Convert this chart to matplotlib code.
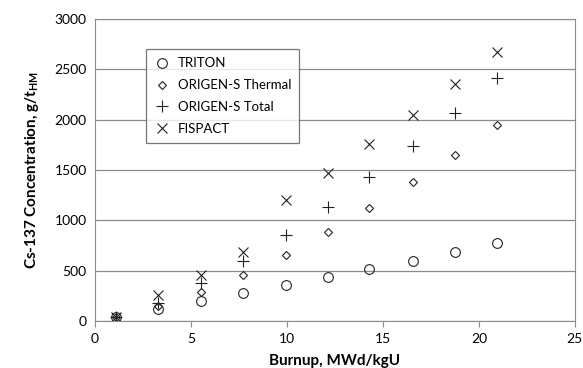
import matplotlib
matplotlib.use("Agg")
from matplotlib import pyplot as plt

burnup = [1.1, 3.3, 5.5, 7.7, 9.95, 12.15, 14.3, 16.55, 18.75, 20.95]
triton = [40, 120, 200, 280, 360, 440, 520, 600, 685, 770]
origen_thermal = [40, 150, 290, 460, 660, 880, 1120, 1380, 1650, 1945]
origen_total = [40, 180, 380, 600, 850, 1130, 1430, 1740, 2070, 2415]
fispact = [40, 260, 460, 680, 1200, 1470, 1760, 2050, 2360, 2675]

plt.rcParams['font.family'] = ['Lato', 'DejaVu Sans']

fig = plt.figure(figsize=(5.83, 3.68), dpi=100)
ax = fig.add_axes([0.163, 0.128, 0.823, 0.82])

style = dict(linestyle='none', color='#222222', markerfacecolor='none', markeredgewidth=0.8)
ax.plot(burnup, triton, marker='o', markersize=7, label='TRITON', **style)
ax.plot(burnup, origen_thermal, marker='D', markersize=4.5, label='ORIGEN-S Thermal', **style)
ax.plot(burnup, origen_total, marker='+', markersize=9, label='ORIGEN-S Total', **style)
ax.plot(burnup, fispact, marker='x', markersize=7, label='FISPACT', **style)

ax.set_xlim(0, 25)
ax.set_ylim(0, 3000)
ax.set_xticks(range(0, 26, 5))
ax.set_yticks(range(0, 3001, 500))
ax.yaxis.grid(True, color='#8c8c8c', linewidth=0.9)
ax.set_axisbelow(True)
for s in ax.spines.values():
    s.set_color('#8c8c8c')
ax.tick_params(axis='both', labelsize=10, color='#8c8c8c', length=4)
ax.tick_params(axis='y', length=0, pad=6)
ax.tick_params(axis='x', direction='out', pad=5)

ax.set_xlabel('Burnup, MWd/kgU', fontsize=11, fontweight='bold', labelpad=6)
ax.set_ylabel('Cs-137 Concentration, g/t$_{\\mathregular{HM}}$', fontsize=11, fontweight='bold', labelpad=10)

leg = ax.legend(loc='upper left', bbox_to_anchor=(0.106, 0.90), borderaxespad=0, fontsize=9.5,
                frameon=True, fancybox=False, handletextpad=0.6, borderpad=0.6,
                labelspacing=0.75, handlelength=1.2)
leg.get_frame().set_edgecolor('#555555')
leg.get_frame().set_linewidth(0.9)

fig.savefig('out.png', dpi=100)
